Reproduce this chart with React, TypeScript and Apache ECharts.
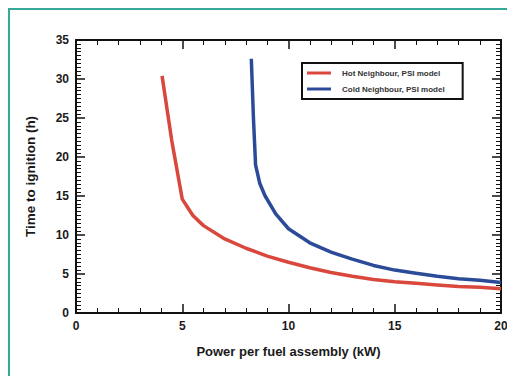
import React, { useEffect, useRef } from "react";
import * as echarts from "echarts";

const hotX = [4.05, 4.5, 5, 5.5, 6, 7, 8, 9, 10, 11, 12, 13, 14, 15, 16, 17, 18, 19, 20];
const hotY = [30.4, 22.2, 14.6, 12.5, 11.2, 9.5, 8.3, 7.3, 6.5, 5.8, 5.2, 4.7, 4.3, 4.0, 3.8, 3.6, 3.4, 3.3, 3.1];
const coldX = [8.25, 8.35, 8.45, 8.65, 8.9, 9.4, 10, 11, 12, 13, 14, 15, 16, 17, 18, 19, 20];
const coldY = [32.6, 25.0, 19.0, 16.6, 15.0, 12.7, 10.8, 9.0, 7.8, 6.9, 6.1, 5.5, 5.1, 4.7, 4.4, 4.2, 3.9];
const seriesNames = ["Hot Neighbour, PSI model", "Cold Neighbour, PSI model"];
const xTitle = "Power per fuel assembly (kW)";
const yTitle = "Time to ignition (h)";

const FONT = "'Liberation Sans', Arial, Helvetica, sans-serif";

export default function App() {
  const ref = useRef<HTMLDivElement>(null);
  useEffect(() => {
    if (!ref.current) return;
    const chart = echarts.init(ref.current, undefined, { renderer: "svg" });
    const axisCommon = {
      axisLine: { show: true, onZero: false, lineStyle: { color: "#111", width: 2 } },
      axisTick: { show: true, inside: true, length: 9, lineStyle: { color: "#111", width: 1.5 } },
      minorTick: { show: true, length: 5, lineStyle: { color: "#111", width: 1 } },
      splitLine: { show: false },
      minorSplitLine: { show: false },
    };
    const labelStyle = { color: "#1a1a1a", fontFamily: FONT, fontWeight: "bold" as const, fontSize: 12 };
    chart.setOption({
      animation: false,
      backgroundColor: "#fff",
      textStyle: { fontFamily: FONT },
      grid: { left: 68, top: 32, right: 14, bottom: 63, containLabel: false },
      legend: {
        left: 294,
        top: 55,
        orient: "vertical",
        data: seriesNames,
        icon: "rect",
        itemWidth: 24,
        itemHeight: 3,
        itemGap: 6,
        padding: [5, 18, 5, 5],
        borderColor: "#111",
        borderWidth: 2,
        textStyle: { fontFamily: FONT, fontWeight: "bold", fontSize: 8, color: "#333", lineHeight: 10, padding: [0, 0, 0, 6] },
      },
      xAxis: [
        {
          type: "value",
          min: 0,
          max: 20,
          interval: 5,
          position: "bottom",
          ...axisCommon,
          minorTick: { ...axisCommon.minorTick, splitNumber: 5 },
          axisLabel: { ...labelStyle, margin: 7 },
          name: xTitle,
          nameLocation: "middle",
          nameGap: 32,
          nameTextStyle: { ...labelStyle, fontSize: 13 },
        },
        {
          type: "value",
          min: 0,
          max: 20,
          interval: 5,
          position: "top",
          ...axisCommon,
          minorTick: { ...axisCommon.minorTick, splitNumber: 5 },
          axisLabel: { show: false },
        },
      ],
      yAxis: [
        {
          type: "value",
          min: 0,
          max: 35,
          interval: 5,
          position: "left",
          ...axisCommon,
          minorTick: { ...axisCommon.minorTick, splitNumber: 10 },
          axisLabel: { ...labelStyle, margin: 7 },
          name: yTitle,
          nameLocation: "middle",
          nameGap: 39,
          nameTextStyle: { ...labelStyle, fontSize: 13.5 },
        },
        {
          type: "value",
          min: 0,
          max: 35,
          interval: 5,
          position: "right",
          ...axisCommon,
          minorTick: { ...axisCommon.minorTick, splitNumber: 10 },
          axisLabel: { show: false },
        },
      ],
      series: [
        {
          name: seriesNames[0],
          type: "line",
          data: hotX.map((x, i) => [x, hotY[i]]),
          showSymbol: false,
          symbol: "none",
          lineStyle: { color: "#d9473d", width: 3.5 },
          itemStyle: { color: "#d9473d" },
        },
        {
          name: seriesNames[1],
          type: "line",
          data: coldX.map((x, i) => [x, coldY[i]]),
          showSymbol: false,
          symbol: "none",
          lineStyle: { color: "#2b4b98", width: 3.5 },
          itemStyle: { color: "#2b4b98" },
        },
      ],
      graphic: [
        { type: "line", shape: { x1: 1, y1: 1, x2: 1, y2: 400 }, style: { stroke: "#35a899", lineWidth: 2 } },
        { type: "line", shape: { x1: 0, y1: 1, x2: 520, y2: 1 }, style: { stroke: "#35a899", lineWidth: 2 } },
      ],
    });
    return () => chart.dispose();
  }, []);
  return <div ref={ref} style={{ width: 507, height: 368 }} />;
}
